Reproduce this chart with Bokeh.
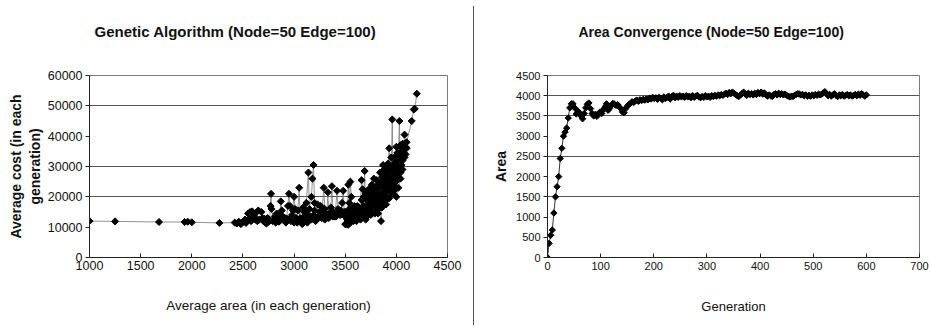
from bokeh.plotting import figure
from bokeh.layouts import row
from bokeh.models import Div, FixedTicker, NumeralTickFormatter
from bokeh.embed import file_html
from bokeh.resources import INLINE

# ---------------- data: left chart (average area vs average cost, in generation order)
ga_area_a = [
    1000, 1250, 1680, 1930, 1960, 2000, 2270, 2420,
    2450, 2500, 2520, 2580, 2610, 2640, 2690, 2730, 2790, 2830, 2850, 2890, 2930, 2970,
    3020, 3040, 3070, 3090, 3110, 3130, 3160, 3190, 3220, 3240, 3260, 3280, 3310, 3350,
    3390, 3410, 3440, 3460, 3490, 3500, 3520, 3530, 3540, 3550, 3560, 3580, 3590,
    3650, 3680, 3700, 3720, 3750, 3770, 3790, 3800, 3820, 3840, 3860, 3880, 3900, 3910,
    3930, 3950, 3970, 3990, 4000, 4020, 4040, 4060, 4080, 4100,
    4070, 4060, 4050, 4040, 4030, 4020, 4010, 4000, 3990, 3980, 3970, 3960, 3950, 3940,
    3930, 3920, 3910, 3900, 3890, 3880, 3870, 3860, 3850, 3840, 3830, 3820, 3810, 3800,
    3790, 3780, 3770, 3760, 3750, 3740, 3730, 3720, 3710, 3700, 3690, 3680, 3670, 3660,
    3650, 3640, 3620, 3600,
]
ga_cost_a = [
    12000, 11900, 11700, 11700, 11800, 11600, 11400, 11500,
    11500, 11800, 12500, 12000, 13500, 12000, 13000, 11200, 12000, 14500, 11800, 13500, 12800, 12000,
    13000, 15500, 12500, 16500, 12000, 14500, 13000, 14000, 12500, 13500, 17000, 13500, 14500, 13800,
    14500, 13500, 14800, 14200, 14500, 11000, 14000, 10800, 13000, 11500, 15000, 14500, 13000,
    12500, 14000, 12500, 19500, 14000, 23500, 20500, 16500, 14500, 19000, 16500, 21500, 17500, 30000,
    19500, 23000, 21000, 25000, 20000, 23000, 26000, 29000, 33000, 36000,
    34000, 35000, 30500, 37000, 32500, 26500, 34500, 28000, 31500, 23500, 30500, 26500, 33000, 21500,
    28500, 24000, 26000, 20000, 22500, 29000, 19500, 26500, 21000, 16500, 23000, 18000, 25500, 19000,
    14500, 21500, 17000, 24000, 19000, 15000, 22500, 17500, 13500, 21000, 15500, 20000, 14500, 19000,
    16000, 13000, 17000, 15000,
]
ga_area_b = [
    4090, 4080, 4070, 4060, 4050, 4040, 4030, 4020, 4010, 4000, 3990, 3980, 3970, 3960,
    3950, 3940, 3930, 3920, 3910, 3900, 3890, 3880, 3870, 3860, 3850, 3830, 3820, 3810,
    3790, 3780, 3760, 3750, 3730, 3710, 3690, 3660, 3630, 3610,
    3590, 3570, 3540, 3500, 3460, 3420, 3380, 3340, 3300, 3270, 3230, 3200, 3170, 3130,
    3100, 3040, 3000, 2990, 2950, 2910, 2860, 2810, 2750, 2710, 2660, 2630, 2590, 2560,
]
ga_cost_b = [
    34000, 37500, 36000, 37500, 33000, 33500, 29000, 30000, 25500, 32000, 22500, 29500, 27500, 21000,
    26000, 30000, 23000, 28000, 19500, 23500, 27000, 17500, 23500, 19000, 24500, 17000, 20500, 21000,
    23000, 18500, 20000, 16500, 18500, 16500, 13000, 15500, 13500, 12000,
    17000, 15500, 16000, 15000, 15500, 14000, 13500, 13000, 12500, 14500, 13000, 15500, 12500, 11500,
    15000, 12000, 11500, 15500, 12500, 13000, 14000, 13500, 11800, 12800, 12500, 14800, 15200, 12800,
]
ga_area_c = [
    2440, 2460, 2480, 2530, 2550, 2570, 2600, 2620, 2650, 2680, 2700, 2720, 2740, 2760,
    2770, 2775, 2780, 2800, 2820, 2840, 2860, 2870, 2880, 2900, 2920, 2940, 2950, 2960,
    2980, 3000, 3010, 3030, 3050, 3060, 3080, 3100, 3120, 3140, 3150, 3170, 3180, 3190,
    3200, 3210, 3230, 3250, 3270, 3290, 3300, 3320, 3330, 3340, 3360, 3370, 3380, 3400,
    3420, 3430, 3450, 3470, 3480, 3490, 3500, 3510, 3520, 3530, 3540, 3550, 3560, 3570,
    3580, 3600, 3620, 3640, 3660, 3670, 3680, 3690, 3700, 3710, 3720, 3730, 3740, 3750,
    3760, 3770, 3780, 3790, 3800, 3810, 3820, 3830, 3840, 3850, 3860, 3870, 3880, 3890,
    3900, 3910, 3920, 3930, 3940, 3950, 3960, 3965, 3970, 3980, 3990, 4000, 4010, 4020,
    4030, 4035, 4040, 4050, 4060, 4070, 4080, 4090, 4100, 4150, 4170, 4180, 4200,
]
ga_cost_c = [
    11200, 11800, 11000, 11400, 14500, 15000, 14000, 12500, 15500, 15000, 12000, 11500, 13000, 12000,
    17000, 21000, 16000, 12500, 11500, 13000, 12000, 18500, 15500, 12500, 11500, 17000, 21000, 17000,
    14000, 20000, 16000, 11500, 23000, 13000, 11000, 13500, 18000, 28000, 16000, 20000, 26000, 30500,
    18000, 12000, 17500, 15000, 13000, 23000, 16000, 13000, 21500, 14500, 16500, 23500, 15000, 13500,
    22000, 16000, 14000, 18000, 22000, 15000, 13500, 11000, 12500, 24000, 18000, 25000, 20000, 14000,
    12000, 13500, 15500, 14000, 25500, 22500, 17000, 28500, 16000, 19000, 14000, 21000, 17500, 23000,
    15000, 20000, 26000, 18000, 22500, 16000, 24000, 19500, 28000, 12000, 21000, 30500, 25000, 18500,
    27000, 22000, 31000, 36000, 25000, 29000, 45500, 30000, 24000, 33000, 27000, 36500, 30000, 34000,
    45000, 33000, 28000, 36000, 32000, 37000, 40500, 36500, 38000, 45000, 48800, 49000, 54000,
]
ga_x_ticks = [1000, 1500, 2000, 2500, 3000, 3500, 4000, 4500]
ga_y_ticks = [0, 10000, 20000, 30000, 40000, 50000, 60000]
ga_y_grid = [20000, 30000, 50000]
ga_title = "Genetic Algorithm (Node=50 Edge=100)"

# ---------------- data: right chart (area per generation, every 3rd generation)
conv_area = [
    0, 350, 550, 680, 1100, 1500, 1750, 2000, 2450, 2700,
    3000, 3100, 3200, 3450, 3700, 3800, 3800, 3700, 3550, 3620,
    3580, 3500, 3430, 3560, 3700, 3790, 3820, 3680, 3560, 3500,
    3540, 3490, 3560, 3600, 3560, 3650, 3720, 3800, 3640, 3690,
    3760, 3810, 3790, 3760, 3780, 3720, 3680, 3600, 3580, 3680,
    3740, 3780, 3810, 3850, 3830, 3870, 3890, 3860, 3900, 3880,
    3910, 3890, 3920, 3900, 3940, 3920, 3960, 3930, 3950, 3910,
    3960, 3940, 3900, 3970, 3930, 3960, 3990, 3920, 3980, 4010,
    3950, 3990, 3960, 4000, 3970, 3990, 3960, 4000, 3970, 3990,
    3950, 4000, 3960, 3990, 4010, 3970, 3950, 3980, 3960, 4000,
    3970, 3990, 3960, 4000, 3980, 4010, 3990, 4020, 4000, 4030,
    4010, 4040, 4060, 4030, 4080, 4050, 4090, 4060, 4030, 4000,
    3980, 4020, 4050, 4090, 4040, 4010, 4060, 4030, 4050, 4020,
    4060, 4030, 4080, 4050, 4090, 4040, 4070, 4020, 3990, 4020,
    4000, 3980, 4030, 4050, 4020, 4060, 4030, 4050, 4020, 4040,
    4010, 3990, 3970, 3990, 3980, 4010, 4030, 4050, 4040, 4020,
    4030, 4000, 4020, 3990, 4010, 3990, 4020, 4000, 4030, 4010,
    4040, 4020, 4040, 4070, 4100, 4050, 4000, 4030, 3990, 4020,
    4050, 4010, 3980, 4020, 4000, 4030, 3990, 4010, 4030, 4000,
    4020, 3990, 4010, 4030, 4000, 4040, 4010, 4050, 4020, 3990,
    4020,
]
conv_gen = list(range(0, 3 * len(conv_area), 3))
conv_x_ticks = [0, 100, 200, 300, 400, 500, 600, 700]
conv_y_ticks = [0, 500, 1000, 1500, 2000, 2500, 3000, 3500, 4000, 4500]
conv_y_grid = [1500, 2500, 3500, 4000]
conv_title = "Area Convergence (Node=50 Edge=100)"

ga_area = ga_area_a + ga_area_b + ga_area_c
ga_cost = ga_cost_a + ga_cost_b + ga_cost_c

FONT = "Liberation Sans"
H = 325
DIAMOND = 0.785398


def style(p, tick_size, title_size, title_offset, title_standoff):
    p.background_fill_color = "white"
    p.border_fill_color = "white"
    p.outline_line_color = "#7a7a7a"
    p.outline_line_width = 1
    p.xgrid.visible = False
    p.ygrid.grid_line_color = "#555555"
    p.ygrid.grid_line_width = 1
    for ax in (p.xaxis[0], p.yaxis[0]):
        ax.axis_line_color = "#222222"
        ax.major_tick_line_color = "#222222"
        ax.minor_tick_line_color = None
        ax.major_label_text_font = FONT
        ax.major_label_text_font_size = tick_size
        ax.major_label_text_color = "#111111"
        ax.axis_label_text_font = FONT
        ax.axis_label_text_color = "#111111"
        ax.formatter = NumeralTickFormatter(format="0")
    p.xaxis.major_tick_in = 4
    p.xaxis.major_tick_out = 0
    p.yaxis.major_tick_in = 0
    p.yaxis.major_tick_out = 4
    p.xaxis.axis_label_text_font_style = "normal"
    p.yaxis.axis_label_text_font_style = "bold"
    p.title.text_font = FONT
    p.title.text_font_size = title_size
    p.title.text_font_style = "bold"
    p.title.text_color = "#111111"
    p.title.align = "left"
    p.title.offset = title_offset
    p.title.standoff = title_standoff


# ---------------- left figure
p1 = figure(width=473, height=H, x_range=(1000, 4500), y_range=(0, 60000),
            output_backend="svg", toolbar_location=None,
            min_border_left=89, min_border_right=26, min_border_top=75, min_border_bottom=H - 257,
            title=ga_title + "\n ")
style(p1, "12.5px", "15px", 5, 38)
p1.xaxis.ticker = FixedTicker(ticks=ga_x_ticks)
p1.yaxis.ticker = FixedTicker(ticks=ga_y_ticks)
p1.ygrid.ticker = FixedTicker(ticks=ga_y_grid)
p1.xaxis.axis_label = "Average area (in each generation)"
p1.yaxis.axis_label = "Average cost (in each\ngeneration)"
p1.xaxis.axis_label_text_font_size = "13.5px"
p1.yaxis.axis_label_text_font_size = "14px"
p1.xaxis.major_label_standoff = 3
p1.xaxis.axis_label_standoff = 25
p1.yaxis.major_label_standoff = 3
p1.yaxis.axis_label_standoff = 2
p1.line(ga_area, ga_cost, line_color="#777777", line_width=0.8)
p1.scatter(ga_area, ga_cost, marker="square", angle=DIAMOND, size=5, fill_color="black", line_color="black")

# ---------------- separator
sep = Div(text="", width=1, height=319, margin=(6, 0, 0, 0), styles={"background-color": "#555555"})

# ---------------- right figure
p2 = figure(width=455, height=H, x_range=(0, 700), y_range=(0, 4500),
            output_backend="svg", toolbar_location=None,
            min_border_left=73, min_border_right=10, min_border_top=73, min_border_bottom=H - 257,
            title=conv_title + "\n ")
style(p2, "11px", "14px", 31, 39)
p2.xaxis.ticker = FixedTicker(ticks=conv_x_ticks)
p2.yaxis.ticker = FixedTicker(ticks=conv_y_ticks)
p2.ygrid.ticker = FixedTicker(ticks=conv_y_grid)
p2.xaxis.axis_label = "Generation"
p2.yaxis.axis_label = "Area"
p2.xaxis.axis_label_text_font_size = "13px"
p2.yaxis.axis_label_text_font_size = "14px"
p2.xaxis.major_label_standoff = 4
p2.xaxis.axis_label_standoff = 26
p2.yaxis.major_label_standoff = 3
p2.yaxis.axis_label_standoff = 4
p2.line(conv_gen, conv_area, line_color="#333333", line_width=1)
p2.scatter(conv_gen, conv_area, marker="square", angle=DIAMOND, size=4.5, fill_color="black", line_color="black")

layout = row(p1, sep, p2, spacing=0)
open("out.html", "w").write(file_html(layout, INLINE))
